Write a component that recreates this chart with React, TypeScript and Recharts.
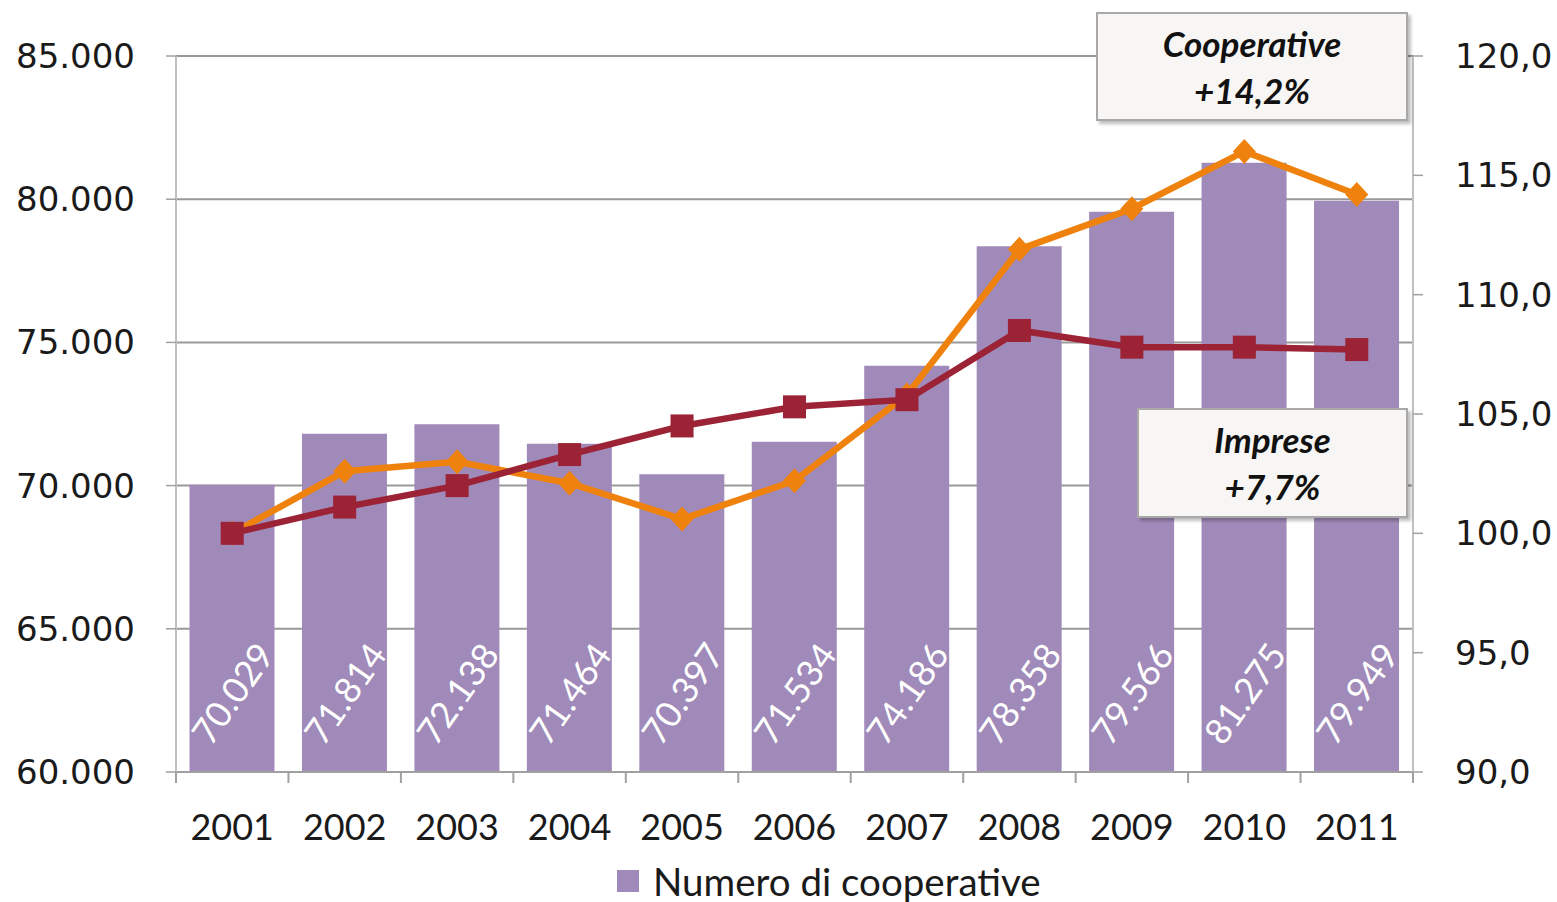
import React from 'react';
import { ComposedChart, Bar, Line, XAxis, YAxis, CartesianGrid, LabelList } from 'recharts';

const years = ['2001', '2002', '2003', '2004', '2005', '2006', '2007', '2008', '2009', '2010', '2011'];
const cooperativeCount = [70029, 71814, 72138, 71464, 70397, 71534, 74186, 78358, 79566, 81275, 79949];
const cooperativeIndex = [100, 102.6, 103.0, 102.1, 100.6, 102.2, 105.8, 111.9, 113.6, 116.0, 114.2];
const impreseIndex = [100, 101.1, 102.0, 103.3, 104.5, 105.3, 105.6, 108.5, 107.8, 107.8, 107.7];
const leftTicks = [60000, 65000, 70000, 75000, 80000, 85000];
const rightTicks = [90, 95, 100, 105, 110, 115, 120];

const data = years.map((y, i) => ({
  year: y,
  count: cooperativeCount[i],
  coop: cooperativeIndex[i],
  imprese: impreseIndex[i],
}));

const fmtThousands = (v: number) => String(v).replace(/\B(?=(\d{3})+(?!\d))/g, '.');
const fmtIndex = (v: number) => v.toFixed(1).replace('.', ',');

const BAR = '#A08AB9';
const ORANGE = '#EF820C';
const RED = '#9B2335';

const BarLabel = (props: any) => {
  const { x, y, width, height, value } = props;
  const cx = Number(x) + Number(width) / 2;
  const cy = Number(y) + Number(height) - 79;
  return (
    <text
      x={cx}
      y={cy}
      transform={`rotate(-55 ${cx} ${cy})`}
      textAnchor="middle"
      dominantBaseline="central"
      fill="#ffffff"
      fontSize={36}
      fontFamily="Lato"
    >
      {fmtThousands(Number(value))}
    </text>
  );
};

const Diamond = (props: any) => {
  const { cx, cy } = props;
  if (cx == null || cy == null) return null;
  const r = 12.5;
  return <path d={`M${cx},${cy - r}L${cx + r - 1},${cy}L${cx},${cy + r}L${cx - r + 1},${cy}Z`} fill={ORANGE} />;
};

const Square = (props: any) => {
  const { cx, cy } = props;
  if (cx == null || cy == null) return null;
  const s = 23;
  return <rect x={cx - s / 2} y={cy - s / 2} width={s} height={s} fill={RED} />;
};

const XTick = (props: any) => {
  const { x, y, payload, index, visibleTicksCount } = props;
  const off = payload && payload.offset ? payload.offset : 56.2;
  return (
    <g>
      <line x1={x - off} y1={y} x2={x - off} y2={y + 11} stroke="#A0A0A0" strokeWidth={2} />
      {index === (visibleTicksCount ?? 11) - 1 ? (
        <line x1={x + off} y1={y} x2={x + off} y2={y + 11} stroke="#A0A0A0" strokeWidth={2} />
      ) : null}
      <text x={x} y={y + 68} textAnchor="middle" fontSize={36} fontFamily="Lato" fill="#1a1a1a">
        {payload.value}
      </text>
    </g>
  );
};

const boxStyle: React.CSSProperties = {
  position: 'absolute',
  background: '#F7F6F4',
  border: '2px solid #A8A8A8',
  boxShadow: '3px 3px 3px rgba(0,0,0,0.25)',
  fontFamily: 'Lato',
  fontWeight: 700,
  fontStyle: 'italic',
  fontSize: 35,
  color: '#111',
  textAlign: 'center',
  lineHeight: '47px',
  boxSizing: 'border-box',
  display: 'flex',
  flexDirection: 'column',
  justifyContent: 'center',
};

export default function App() {
  return (
    <div style={{ position: 'absolute', left: 0, top: 0, width: 1557, height: 902, background: '#fff' }}>
      <ComposedChart
        width={1557}
        height={902}
        data={data}
        margin={{ top: 56, right: 0, bottom: 70, left: 0 }}
        barCategoryGap="12%"
      >
        <CartesianGrid yAxisId="left" vertical={false} stroke="#999999" strokeWidth={2} />
        <XAxis
          dataKey="year"
          xAxisId={0}
          height={60}
          tickSize={0}
          tickMargin={0}
          tick={<XTick />}
          axisLine={{ stroke: '#A0A0A0', strokeWidth: 2 }}
          interval={0}
        />
        <YAxis
          yAxisId="left"
          orientation="left"
          width={176}
          domain={[60000, 85000]}
          ticks={leftTicks}
          allowDataOverflow
          tickFormatter={fmtThousands}
          tick={{ fontSize: 34, fontFamily: 'DejaVu Sans', fill: '#1a1a1a' }}
          tickSize={10}
          tickMargin={31}
          axisLine={{ stroke: '#C0C0C0', strokeWidth: 2 }}
          tickLine={{ stroke: '#A0A0A0', strokeWidth: 1.5 }}
        />
        <YAxis
          yAxisId="right"
          orientation="right"
          width={144}
          domain={[90, 120]}
          ticks={rightTicks}
          allowDataOverflow
          tickFormatter={fmtIndex}
          tick={{ fontSize: 34, fontFamily: 'DejaVu Sans', fill: '#1a1a1a' }}
          tickSize={10}
          tickMargin={32}
          axisLine={{ stroke: '#C0C0C0', strokeWidth: 2 }}
          tickLine={{ stroke: '#A0A0A0', strokeWidth: 1.5 }}
        />
        <Bar yAxisId="left" dataKey="count" fill={BAR} isAnimationActive={false}>
          <LabelList dataKey="count" content={<BarLabel />} />
        </Bar>
        <Line
          yAxisId="right"
          dataKey="coop"
          stroke={ORANGE}
          strokeWidth={6.5}
          dot={<Diamond />}
          activeDot={false}
          isAnimationActive={false}
        />
        <Line
          yAxisId="right"
          dataKey="imprese"
          stroke={RED}
          strokeWidth={6.5}
          dot={<Square />}
          activeDot={false}
          isAnimationActive={false}
        />
      </ComposedChart>

      <div style={{ ...boxStyle, left: 1096, top: 12, width: 312, height: 109 }}>
        <div>Cooperative</div>
        <div>+14,2%</div>
      </div>
      <div style={{ ...boxStyle, left: 1137, top: 408, width: 271, height: 110 }}>
        <div>Imprese</div>
        <div>+7,7%</div>
      </div>

      <div
        style={{
          position: 'absolute',
          left: 617,
          top: 858,
          display: 'flex',
          alignItems: 'center',
          fontFamily: 'Lato',
          fontSize: 38.5,
          color: '#1a1a1a',
          whiteSpace: 'nowrap',
        }}
      >
        <span style={{ display: 'inline-block', width: 22, height: 22, background: BAR, marginRight: 14 }} />
        <span>Numero di cooperative</span>
      </div>
    </div>
  );
}
